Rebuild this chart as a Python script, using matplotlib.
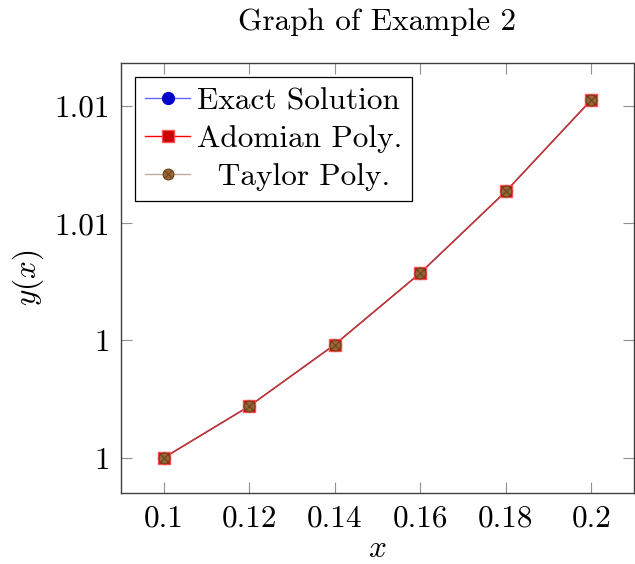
import matplotlib
matplotlib.use("Agg")
import matplotlib.pyplot as plt
from matplotlib.ticker import FuncFormatter, FixedLocator

# values
x_vals = [0.10, 0.12, 0.14, 0.16, 0.18, 0.20]
exact_sol = [1.00200, 1.00288, 1.00393, 1.00515, 1.00654, 1.00810]
adomian_poly = [1.00200, 1.00288, 1.00393, 1.00515, 1.00654, 1.00810]
taylor_poly = [1.00200, 1.00288, 1.00393, 1.00515, 1.00654, 1.00810]

x_ticks = [0.10, 0.12, 0.14, 0.16, 0.18, 0.20]
y_ticks = [1.002, 1.004, 1.006, 1.008]

FONT_SIZE = 22.5


def main():
    plt.rcParams['font.family'] = ['cmr10', 'DejaVu Serif']
    plt.rcParams['mathtext.fontset'] = 'cm'
    plt.rcParams['axes.unicode_minus'] = False
    plt.rcParams['font.size'] = FONT_SIZE

    fig, ax = plt.subplots(figsize=(6.35, 5.64), dpi=100)
    fig.subplots_adjust(left=121/635, right=634/635, bottom=1-493/564, top=1-63/564)

    l1, = ax.plot(x_vals, exact_sol, color='blue', alpha=0.6, lw=1.0, zorder=3)
    m1, = ax.plot(x_vals, exact_sol, ls='none', marker='o', ms=8.5,
                  mfc='#0000cc', mec='#0000cc', zorder=4)
    l2, = ax.plot(x_vals, adomian_poly, color='red', lw=1.0, zorder=3)
    m2, = ax.plot(x_vals, adomian_poly, ls='none', marker='s', ms=8.5,
                  mfc='#cc0000', mec='#ff5050', mew=1.0, zorder=5)
    l3, = ax.plot(x_vals, taylor_poly, color='#8b6a4a', alpha=0.55, lw=1.0, zorder=3)
    m3, = ax.plot(x_vals, taylor_poly, ls='none', marker='o', ms=7.8,
                  mfc='#9a6633', mec='#6b4422', mew=0.8, zorder=6)
    m3x, = ax.plot(x_vals, taylor_poly, ls='none', marker='x', ms=5.5,
                   mec='#6b4422', mew=0.8, zorder=7)

    ax.set_xlim(0.09, 0.21)
    ax.set_ylim(1.0014, 1.00873)
    ax.xaxis.set_major_locator(FixedLocator(x_ticks))
    ax.yaxis.set_major_locator(FixedLocator(y_ticks))
    ax.xaxis.set_major_formatter(FuncFormatter(lambda v, p: f"{round(v, 2):g}"))
    ax.yaxis.set_major_formatter(FuncFormatter(lambda v, p: f"{round(v, 2):g}"))
    ax.tick_params(direction='in', length=8, width=0.8, color='#909090',
                   top=True, right=True, labelsize=FONT_SIZE, pad=8)
    for sp in ax.spines.values():
        sp.set_color('#404040')
        sp.set_linewidth(1.0)

    ax.set_title('Graph of Example 2', fontsize=FONT_SIZE, pad=24)
    ax.set_xlabel('$x$', fontsize=FONT_SIZE, labelpad=2)
    ax.set_ylabel('$y(x)$', fontsize=FONT_SIZE, labelpad=6)

    leg = ax.legend([(l1, m1), (l2, m2), (l3, m3, m3x)],
                    ['Exact Solution', 'Adomian Poly.', '  Taylor Poly.'],
                    loc='upper left', fontsize=FONT_SIZE, fancybox=False,
                    edgecolor='black', framealpha=1, handlelength=1.45,
                    handletextpad=0.2, labelspacing=0.32, borderpad=0.32,
                    borderaxespad=0.45)
    leg.get_frame().set_linewidth(0.9)

    fig.savefig('out.png', dpi=100)


if __name__ == '__main__':
    main()
